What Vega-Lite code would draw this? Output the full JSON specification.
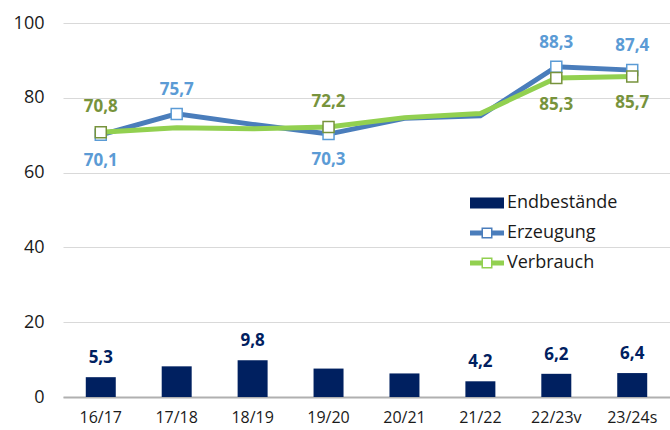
{
  "$schema": "https://vega.github.io/schema/vega-lite/v6.json",
  "autosize": {"type": "none"},
  "width": 607,
  "height": 374,
  "padding": {"left": 63, "top": 23, "right": 0, "bottom": 33},
  "background": "white",
  "config": {
    "view": {"stroke": null},
    "font": "Open Sans",
    "locale": {"number": {"decimal": ",", "thousands": ".", "grouping": [3], "currency": ["", " €"]}}
  },
  "data": {"values": [
    {"cat": "16/17", "series": "Endbestände", "value": 5.3, "lab": "above"},
    {"cat": "17/18", "series": "Endbestände", "value": 8.2, "lab": "none"},
    {"cat": "18/19", "series": "Endbestände", "value": 9.8, "lab": "above"},
    {"cat": "19/20", "series": "Endbestände", "value": 7.6, "lab": "none"},
    {"cat": "20/21", "series": "Endbestände", "value": 6.3, "lab": "none"},
    {"cat": "21/22", "series": "Endbestände", "value": 4.2, "lab": "above"},
    {"cat": "22/23v", "series": "Endbestände", "value": 6.2, "lab": "above"},
    {"cat": "23/24s", "series": "Endbestände", "value": 6.4, "lab": "above"},
    {"cat": "16/17", "series": "Erzeugung", "value": 70.1, "lab": "below"},
    {"cat": "17/18", "series": "Erzeugung", "value": 75.7, "lab": "above"},
    {"cat": "18/19", "series": "Erzeugung", "value": 72.9, "lab": "none"},
    {"cat": "19/20", "series": "Erzeugung", "value": 70.3, "lab": "below"},
    {"cat": "20/21", "series": "Erzeugung", "value": 74.5, "lab": "none"},
    {"cat": "21/22", "series": "Erzeugung", "value": 75.2, "lab": "none"},
    {"cat": "22/23v", "series": "Erzeugung", "value": 88.3, "lab": "above"},
    {"cat": "23/24s", "series": "Erzeugung", "value": 87.4, "lab": "above"},
    {"cat": "16/17", "series": "Verbrauch", "value": 70.8, "lab": "above"},
    {"cat": "17/18", "series": "Verbrauch", "value": 72.0, "lab": "none"},
    {"cat": "18/19", "series": "Verbrauch", "value": 71.7, "lab": "none"},
    {"cat": "19/20", "series": "Verbrauch", "value": 72.2, "lab": "above"},
    {"cat": "20/21", "series": "Verbrauch", "value": 74.7, "lab": "none"},
    {"cat": "21/22", "series": "Verbrauch", "value": 75.8, "lab": "none"},
    {"cat": "22/23v", "series": "Verbrauch", "value": 85.3, "lab": "below"},
    {"cat": "23/24s", "series": "Verbrauch", "value": 85.7, "lab": "below"}
  ]},
  "encoding": {
    "x": {
      "field": "cat", "type": "nominal", "sort": null,
      "scale": {"paddingInner": 0.605, "paddingOuter": 0.3},
      "axis": {
        "title": null, "labelAngle": 0, "ticks": false,
        "domainColor": "#b0b0b0", "domainWidth": 2,
        "labelFontSize": 16, "labelColor": "#1a1a1a", "labelPadding": 12
      }
    },
    "y": {
      "field": "value", "type": "quantitative",
      "scale": {"domain": [0, 100], "nice": false},
      "axis": {
        "title": null, "values": [0, 20, 40, 60, 80, 100], "domain": false, "ticks": false,
        "gridColor": "#d9d9d9", "gridWidth": 1,
        "labelFontSize": 18, "labelColor": "#1a1a1a", "labelPadding": 19
      }
    }
  },
  "layer": [
    {
      "transform": [{"filter": "datum.series === 'Endbestände'"}],
      "mark": {"type": "bar"},
      "encoding": {
        "color": {
          "field": "series", "type": "nominal",
          "scale": {"domain": ["Endbestände", "Erzeugung", "Verbrauch"], "range": ["#002060", "#4A7DBB", "#92D050"]},
          "legend": {
            "title": null, "orient": "none", "legendX": 409, "legendY": 165,
            "padding": 0, "rowPadding": 6, "symbolSize": 900, "labelOffset": 5,
            "labelFontSize": 18, "labelColor": "#1a1a1a", "labelLimit": 300,
            "symbolStrokeWidth": 0,
            "encode": {
              "symbols": {
                "update": {
                  "shape": {"signal": "datum.value === 'Endbestände' ? 'M-1.133,-0.367H1.133V0.367H-1.133Z' : 'M-1.133,-0.16H-0.367V0.16H-1.133Z M0.367,-0.16H1.133V0.16H0.367Z M-0.367,-0.367H0.367V0.367H-0.367Z M-0.267,-0.267V0.267H0.267V-0.267Z'"},
                  "fill": {"signal": "datum.value === 'Endbestände' ? '#002060' : (datum.value === 'Erzeugung' ? '#4A7DBB' : '#92D050')"},
                  "stroke": {"value": "transparent"},
                  "strokeWidth": {"value": 0},
                  "opacity": {"value": 1}
                }
              }
            }
          }
        }
      }
    },
    {
      "transform": [{"filter": "datum.series === 'Endbestände' && datum.lab === 'above'"}],
      "mark": {"type": "text", "dy": -19, "fontSize": 17, "fontWeight": "bold", "color": "#002060"},
      "encoding": {"text": {"field": "value", "type": "quantitative", "format": ".1f"}}
    },
    {
      "transform": [{"filter": "datum.series === 'Erzeugung'"}],
      "mark": {"type": "line", "color": "#4A7DBB", "strokeWidth": 5}
    },
    {
      "transform": [{"filter": "datum.series === 'Erzeugung' && datum.lab !== 'none'"}],
      "mark": {"type": "point", "shape": "square", "size": 121, "filled": true, "fill": "white", "stroke": "#5B9BD5", "strokeWidth": 1.5, "opacity": 1}
    },
    {
      "transform": [{"filter": "datum.series === 'Verbrauch'"}],
      "mark": {"type": "line", "color": "#92D050", "strokeWidth": 5}
    },
    {
      "transform": [{"filter": "datum.series === 'Verbrauch' && datum.lab !== 'none'"}],
      "mark": {"type": "point", "shape": "square", "size": 121, "filled": true, "fill": "white", "stroke": "#77933C", "strokeWidth": 1.5, "opacity": 1}
    },
    {
      "transform": [{"filter": "datum.series === 'Erzeugung' && datum.lab === 'above'"}],
      "mark": {"type": "text", "dy": -24, "fontSize": 17, "fontWeight": "bold", "color": "#5B9BD5"},
      "encoding": {"text": {"field": "value", "type": "quantitative", "format": ".1f"}}
    },
    {
      "transform": [{"filter": "datum.series === 'Erzeugung' && datum.lab === 'below'"}],
      "mark": {"type": "text", "dy": 26, "fontSize": 17, "fontWeight": "bold", "color": "#5B9BD5"},
      "encoding": {"text": {"field": "value", "type": "quantitative", "format": ".1f"}}
    },
    {
      "transform": [{"filter": "datum.series === 'Verbrauch' && datum.lab === 'above'"}],
      "mark": {"type": "text", "dy": -25, "fontSize": 17, "fontWeight": "bold", "color": "#77933C"},
      "encoding": {"text": {"field": "value", "type": "quantitative", "format": ".1f"}}
    },
    {
      "transform": [{"filter": "datum.series === 'Verbrauch' && datum.lab === 'below'"}],
      "mark": {"type": "text", "dy": 27, "fontSize": 17, "fontWeight": "bold", "color": "#77933C"},
      "encoding": {"text": {"field": "value", "type": "quantitative", "format": ".1f"}}
    }
  ]
}
